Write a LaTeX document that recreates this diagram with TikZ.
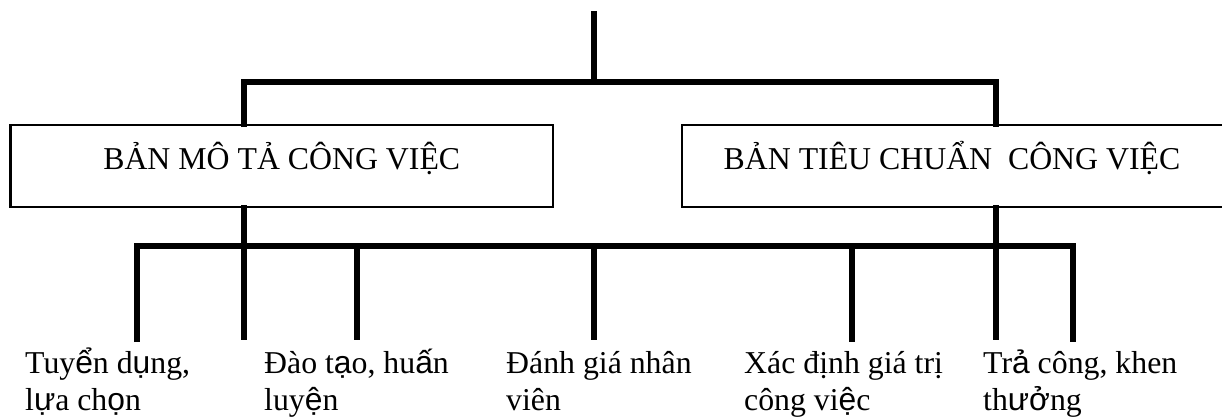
\documentclass[tikz,border=0pt]{standalone}
\usepackage{fontspec}
\setmainfont{Liberation Serif}
\newfontfamily\fbsans{Liberation Sans}
% a few Vietnamese letters are set in the sans face
\newcommand\sv[1]{{\fbsans #1}}
\begin{document}
\begin{tikzpicture}[x=1pt,y=-1pt,
  conn/.style={line width=5.5pt, line join=miter},
  boxst/.style={draw, line width=2.6pt, inner sep=0pt, minimum height=82pt},
  boxtxt/.style={anchor=base, inner sep=0pt, font=\fontsize{31.8}{37}\selectfont},
  lbl/.style={anchor=base west, inner sep=0pt, align=left, font=\fontsize{31.8}{37}\selectfont}]
\useasboundingbox (0,0) rectangle (1222,419);

% the two documents
\node[boxst, minimum width=542.5pt] (b1) at (281.75,166) {};
\node[boxst, minimum width=548pt] (b2) at (956,166) {};
\node[boxtxt] (t1) at (281.75,170) {BẢN MÔ TẢ CÔNG VIỆC};
\node[boxtxt] (t2) at (952,170) {BẢN TIÊU CHUẨN\ \ CÔNG VIỆC};

% connector points
\coordinate (top) at (594,11);
\coordinate (ul) at (244,82);
\coordinate (ur) at (996,82);
\coordinate (barR) at (1073,246);
\coordinate (legA) at (137,342);
\coordinate (legB) at (244,340);
\coordinate (legC) at (357,340);
\coordinate (legD) at (594,340);
\coordinate (legE) at (852,342);
\coordinate (legF) at (996,340);
\coordinate (legG) at (1073,342);

% upper tree
\draw[conn] (top) -- (top |- ur);
\draw[conn] ([yshift=-3pt]b1.north -| ul) |- (ur) -- ([yshift=-3pt]b2.north -| ur);

% lower tree
\draw[conn] (legA) |- (barR) -- (legG);
\draw[conn] ([yshift=3pt]b1.south -| legB) -- (legB);
\draw[conn] ([yshift=3pt]b2.south -| legF) -- (legF);
\draw[conn] (legC |- barR) -- (legC);
\draw[conn] (legD |- barR) -- (legD);
\draw[conn] (legE |- barR) -- (legE);

% uses of the documents (anchored on the baseline of the second line)
\node[lbl] (l1) at (25,410) {Tuy\sv{ể}n d\sv{ụ}ng,\\l\sv{ự}a ch\sv{ọ}n};
\node[lbl] (l2) at (264,410) {Đào t\sv{ạ}o, hu\sv{ấ}n\\luy\sv{ệ}n};
\node[lbl] (l3) at (506,410) {Đánh giá nhân\\viên};
\node[lbl] (l4) at (744,410) {Xác định giá trị\\công vi\sv{ệ}c};
\node[lbl] (l5) at (983,410) {Tr\sv{ả} công, khen\\th\sv{ưở}ng};
\end{tikzpicture}
\end{document}
